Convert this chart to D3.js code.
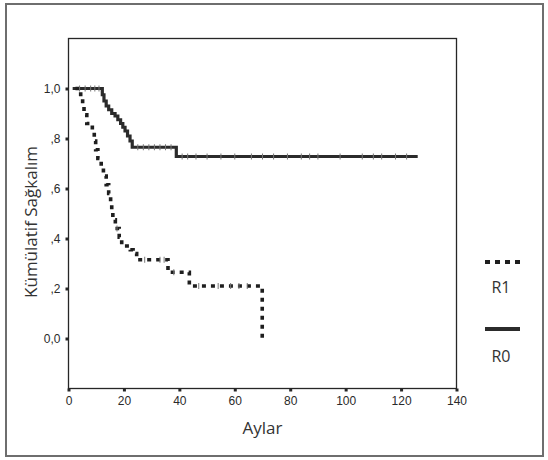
<!DOCTYPE html>
<html>
<head>
<meta charset="utf-8">
<script src="https://cdn.jsdelivr.net/npm/d3@7"></script>
<style>
  html, body { margin: 0; padding: 0; background: #fff; }
  svg { display: block; }
</style>
</head>
<body>
<svg id="chart" width="548" height="460"></svg>
<script>
// Kaplan-Meier survival by resection margin (R0 vs R1)
const r0Time = [1.5, 12.2, 12.8, 13.6, 14.5, 15.6, 16.8, 17.8, 18.8, 19.6, 20.4, 21.3, 22.2, 23.0, 38.9, 126];
const r0Surv = [1.0, 0.975, 0.95, 0.93, 0.915, 0.90, 0.89, 0.875, 0.86, 0.845, 0.83, 0.81, 0.79, 0.765, 0.728, 0.728];
const r0Censor = [4, 6, 8, 9.5, 11, 25, 27, 29, 31, 33, 35, 37, 41, 43, 46, 50, 55, 60, 66, 70, 74, 79, 84, 87, 90, 98, 106, 110, 113, 118, 122];

const r1Time = [2.5, 4.4, 5.1, 5.6, 6.6, 8.6, 9.3, 9.8, 10.6, 11.8, 12.6, 13.6, 14.5, 15.2, 15.6, 16.0, 16.9, 18.3, 19.2, 22.3, 23.3, 24.6, 35.9, 43.6, 69.9];
const r1Surv = [1.0, 0.965, 0.93, 0.895, 0.86, 0.825, 0.79, 0.755, 0.72, 0.685, 0.65, 0.615, 0.58, 0.545, 0.51, 0.475, 0.44, 0.405, 0.37, 0.355, 0.34, 0.315, 0.265, 0.21, 0.0];
const r1Censor = [17.5, 27.5, 33, 34.5, 38, 47, 54, 58.5, 61.5, 64.5];

const xTicks = [0, 20, 40, 60, 80, 100, 120, 140];
const yTicks = [0, 0.2, 0.4, 0.6, 0.8, 1.0];
const yTickLabels = ["0,0", ",2", ",4", ",6", ",8", "1,0"];

const seriesNames = ["R1", "R0"];
const xTitle = "Aylar";
const yTitle = "Kümülatif Sağkalım";

const svg = d3.select("#chart");
const ink = "#262626";

// outer frame
svg.append("rect")
  .attr("x", 6).attr("y", 4).attr("width", 537).attr("height", 452)
  .attr("fill", "none").attr("stroke", "#6e6e6e").attr("stroke-width", 2);

const x = d3.scaleLinear().domain([0, 140]).range([68.5, 456.5]);
const y = d3.scaleLinear().domain([-0.2, 1.2]).range([388.5, 38.5]);

// plot box
svg.append("rect")
  .attr("x", x(0)).attr("y", y(1.2))
  .attr("width", x(140) - x(0)).attr("height", y(-0.2) - y(1.2))
  .attr("fill", "none").attr("stroke", ink).attr("stroke-width", 1.3);

// axes
const xAxis = d3.axisBottom(x).tickValues(xTicks).tickSize(3).tickPadding(5)
  .tickFormat(d3.format("d"));
const gx = svg.append("g").attr("transform", `translate(0,${y(-0.2)})`).call(xAxis);
const yAxis = d3.axisLeft(y).tickValues(yTicks).tickSize(3).tickPadding(5)
  .tickFormat((d, i) => yTickLabels[i]);
const gy = svg.append("g").attr("transform", `translate(${x(0)},0)`).call(yAxis);

[gx, gy].forEach(g => {
  g.select(".domain").remove();
  g.selectAll(".tick line").attr("stroke", ink).attr("stroke-width", 3);
  g.selectAll(".tick text")
    .attr("fill", "#2a2a2a")
    .style("font-family", "'Liberation Sans', Arial, sans-serif")
    .style("font-size", "12px");
});

// axis titles
svg.append("text")
  .attr("x", (x(0) + x(140)) / 2).attr("y", 434)
  .attr("text-anchor", "middle")
  .style("font-family", "'Open Sans', sans-serif").style("font-size", "17px")
  .attr("fill", "#333").text(xTitle);

svg.append("text")
  .attr("transform", "translate(37,222) rotate(-90)")
  .attr("text-anchor", "middle")
  .style("font-family", "'Open Sans', sans-serif").style("font-size", "17px")
  .attr("fill", "#333").text(yTitle);

// survival curves
const line = d3.line()
  .x(d => x(d[0])).y(d => y(d[1]))
  .curve(d3.curveStepAfter);

const r0Pts = r0Time.map((t, i) => [t, r0Surv[i]]);
const r1Pts = r1Time.map((t, i) => [t, r1Surv[i]]);

svg.append("path").datum(r0Pts)
  .attr("d", line).attr("fill", "none")
  .attr("stroke", "#2b2b2b").attr("stroke-width", 3.2);

svg.append("path").datum(r1Pts)
  .attr("d", line).attr("fill", "none")
  .attr("stroke", "#1e1e1e").attr("stroke-width", 3.6)
  .attr("stroke-dasharray", "4,5");

// censored observations
function survAt(times, surv, t) {
  let s = surv[0];
  for (let i = 0; i < times.length; i++) if (times[i] <= t) s = surv[i];
  return s;
}
function censorMarks(times, surv, cens) {
  svg.append("g").selectAll("line").data(cens).join("line")
    .attr("x1", d => x(d)).attr("x2", d => x(d))
    .attr("y1", d => y(survAt(times, surv, d)) - 3)
    .attr("y2", d => y(survAt(times, surv, d)) + 3)
    .attr("stroke", "#777").attr("stroke-width", 1);
}
censorMarks(r0Time, r0Surv, r0Censor);
censorMarks(r1Time, r1Surv, r1Censor);

// legend
const lg = svg.append("g");
lg.append("line").attr("x1", 485).attr("x2", 520).attr("y1", 262).attr("y2", 262)
  .attr("stroke", "#1e1e1e").attr("stroke-width", 4).attr("stroke-dasharray", "5,5");
lg.append("text").attr("x", 501).attr("y", 293).attr("text-anchor", "middle")
  .style("font-family", "'Open Sans', sans-serif").style("font-size", "16px")
  .attr("fill", "#333").text(seriesNames[0]);
lg.append("line").attr("x1", 485).attr("x2", 520).attr("y1", 329).attr("y2", 329)
  .attr("stroke", "#2b2b2b").attr("stroke-width", 4);
lg.append("text").attr("x", 501).attr("y", 362).attr("text-anchor", "middle")
  .style("font-family", "'Open Sans', sans-serif").style("font-size", "16px")
  .attr("fill", "#333").text(seriesNames[1]);
</script>
</body>
</html>
